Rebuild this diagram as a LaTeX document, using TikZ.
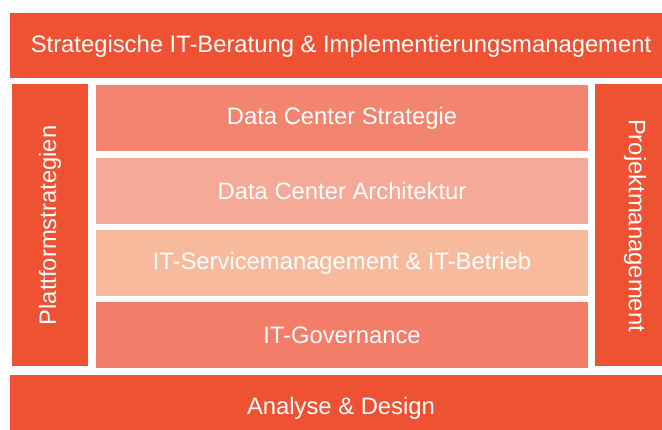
\documentclass[tikz,border=0pt]{standalone}
\usepackage{fontspec}
\setmainfont{Liberation Sans}
\usepackage{tikz}
\usetikzlibrary{positioning}

\definecolor{hauptrot}{RGB}{239,81,51}
\definecolor{schicht1}{RGB}{243,133,112}
\definecolor{schicht2}{RGB}{247,169,152}
\definecolor{schicht3}{RGB}{248,186,156}
\definecolor{schicht4}{RGB}{243,125,104}

\begin{document}
\begin{tikzpicture}[x=1pt, y=-1pt,
                    box/.style={rectangle, inner sep=0pt, text=white, font=\fontsize{23.8}{28}\selectfont},
                    balken/.style={box, fill=hauptrot, minimum width=662pt},
                    saeule/.style={box, fill=hauptrot, minimum height=282pt},
                    schicht/.style={box, minimum width=492pt, minimum height=66pt}]

    \useasboundingbox (0,0) rectangle (662,430);

    % oben und unten
    \node[balken, minimum height=65pt] (beratung) at (341,46) {Strategische IT-Beratung \& Implementierungsmanagement};
    \node[balken, minimum height=66pt] (design) at (341,408) {Analyse \& Design};

    % seitliche Saeulen
    \node[saeule, minimum width=76pt] (plattform) at (50,225.5) {\rotatebox{90}{Plattformstrategien}};
    \node[saeule, minimum width=80pt] (projekt) at (635,225.5) {\rotatebox{-90}{Projektmanagement}};

    % mittlere Schichten
    \node[schicht, fill=schicht1] (strategie) at (342,118) {Data Center Strategie};
    \node[schicht, fill=schicht2] (architektur) at (342,191) {Data Center Architektur};
    \node[schicht, fill=schicht3] (service) at (342,263) {IT-Servicemanagement \& IT-Betrieb};
    \node[schicht, fill=schicht4] (governance) at (342,335) {IT-Governance};

\end{tikzpicture}
\end{document}
